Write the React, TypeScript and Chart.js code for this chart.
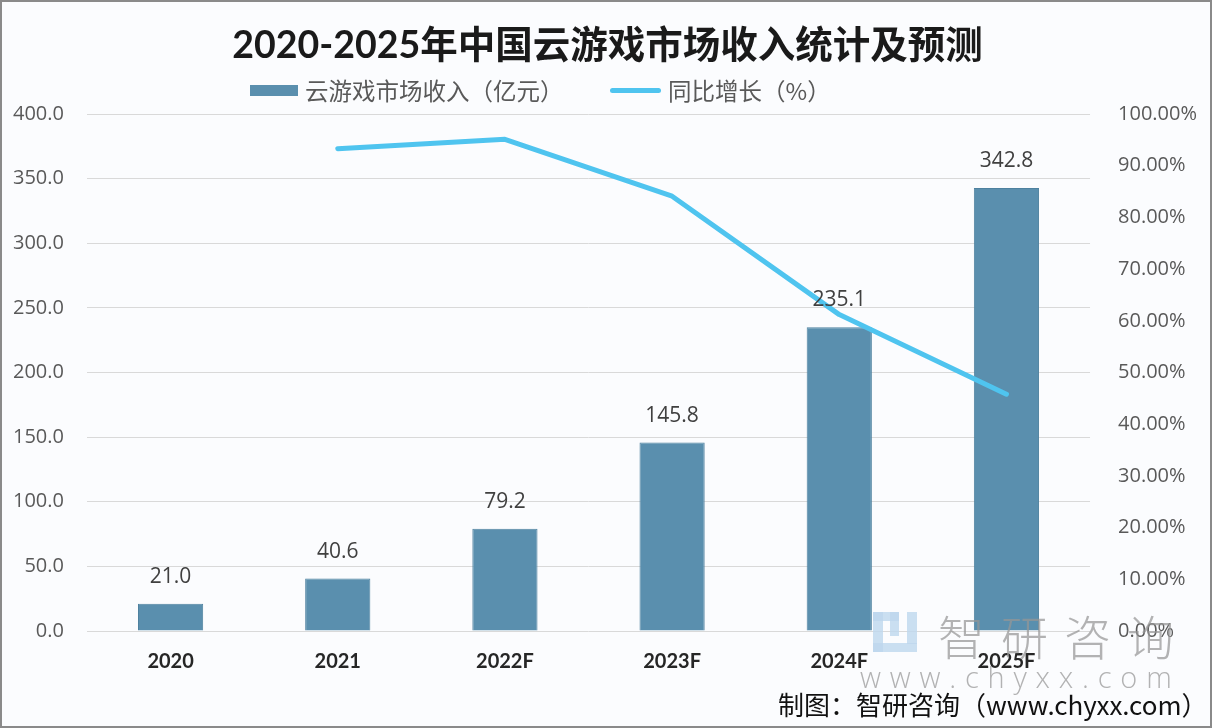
import React, { useEffect, useRef } from 'react';
import { Chart, registerables } from 'chart.js';

Chart.register(...registerables);

const categories = ['2020', '2021', '2022F', '2023F', '2024F', '2025F'];
const revenue = [21.0, 40.6, 79.2, 145.8, 235.1, 342.8];
const growth: (number | null)[] = [null, 93.3, 95.1, 84.1, 61.2, 45.8];

const titleText = '2020-2025年中国云游戏市场收入统计及预测';
const revenueLabel = '云游戏市场收入（亿元）';
const growthLabel = '同比增长（%）';
const footerText = '制图：智研咨询（www.chyxx.com）';
const watermarkText = '智研咨询';
const watermarkUrl = 'www.chyxx.com';

const BAR_COLOR = '#5a8fae';
const BAR_BORDER = '#4e819f';
const LINE_COLOR = '#4fc4ef';
const TICK_COLOR = '#595959';
const GRID_COLOR = '#d9d9d9';
const SANS = '"Open Sans", "Noto Sans CJK SC", sans-serif';
const CJK = '"Noto Sans CJK SC", "Open Sans", sans-serif';

const barLabels = {
  id: 'barLabels',
  afterDatasetsDraw(chart: any) {
    const meta = chart.getDatasetMeta(0);
    const ctx = chart.ctx;
    ctx.save();
    ctx.font = '21px ' + SANS;
    ctx.fillStyle = '#404040';
    ctx.textAlign = 'center';
    ctx.textBaseline = 'middle';
    meta.data.forEach((el: any, i: number) => {
      ctx.fillText(revenue[i].toFixed(1), el.x, el.y - 27);
    });
    ctx.restore();
  },
};

export default function App() {
  const canvasRef = useRef<HTMLCanvasElement | null>(null);

  useEffect(() => {
    if (!canvasRef.current) return;
    const chart = new Chart(canvasRef.current, {
      type: 'bar',
      data: {
        labels: categories,
        datasets: [
          {
            type: 'bar',
            label: revenueLabel,
            data: revenue,
            backgroundColor: BAR_COLOR,
            borderColor: BAR_BORDER,
            borderWidth: 1,
            categoryPercentage: 1,
            barPercentage: 0.39,
            yAxisID: 'y',
            order: 1,
          },
          {
            type: 'line',
            label: growthLabel,
            data: growth,
            borderColor: LINE_COLOR,
            backgroundColor: LINE_COLOR,
            borderWidth: 5,
            borderCapStyle: 'round',
            borderJoinStyle: 'round',
            pointRadius: 0,
            tension: 0,
            yAxisID: 'y1',
            order: 0,
          } as any,
        ],
      },
      options: {
        responsive: false,
        animation: false,
        devicePixelRatio: 1,
        layout: { padding: { left: -12, right: -15, top: 0, bottom: 33 } },
        plugins: {
          legend: { display: false },
          tooltip: { enabled: false },
          title: {
            display: true,
            text: titleText,
            color: '#1a1a1a',
            font: { family: '"Lato", "Noto Sans CJK SC", sans-serif', size: 37.5, weight: 'bold', lineHeight: 1.2 },
            padding: { top: 21, bottom: 46 },
          },
        },
        scales: {
          x: {
            grid: { display: false, drawTicks: false },
            border: { display: false },
            ticks: {
              color: '#262626',
              padding: 19,
              font: { family: '"Lato", sans-serif', size: 20, weight: 'bold', lineHeight: 1.2 },
            },
          },
          y: {
            position: 'left',
            min: 0,
            max: 400,
            grid: { color: GRID_COLOR, lineWidth: 1, drawTicks: false },
            border: { display: false },
            ticks: {
              stepSize: 50,
              padding: 23,
              color: TICK_COLOR,
              font: { family: SANS, size: 20, lineHeight: 1.2 },
              callback: (v: any) => Number(v).toFixed(1),
            },
          },
          y1: {
            position: 'right',
            min: 0,
            max: 100,
            grid: { display: false, drawTicks: false },
            border: { display: false },
            ticks: {
              stepSize: 10,
              padding: 28,
              color: TICK_COLOR,
              font: { family: SANS, size: 20, lineHeight: 1.2 },
              callback: (v: any) => Number(v).toFixed(2) + '%',
            },
          },
        },
      },
      plugins: [barLabels],
    } as any);
    return () => chart.destroy();
  }, []);

  const wm = 'rgba(150,150,150,0.72)';
  const logo = 'rgba(190,215,238,0.8)';

  return (
    <div
      style={{
        position: 'fixed',
        left: 0,
        top: 0,
        width: 1212,
        height: 728,
        boxSizing: 'border-box',
        border: '2px solid #8a8a8a',
        background: '#fbfcfe',
        overflow: 'hidden',
      }}
    >
      <canvas ref={canvasRef} width={1208} height={724} style={{ position: 'absolute', left: 0, top: 0, width: 1208, height: 724 }} />

      {/* legend */}
      <div style={{ position: 'absolute', left: 248, top: 83, width: 48, height: 11, background: BAR_COLOR }} />
      <div style={{ position: 'absolute', left: 303, top: 72, lineHeight: '32px', fontFamily: CJK, fontSize: 23.5, color: TICK_COLOR, whiteSpace: 'nowrap' }}>
        {revenueLabel}
      </div>
      <div style={{ position: 'absolute', left: 608, top: 86, width: 51, height: 5, borderRadius: 3, background: LINE_COLOR }} />
      <div style={{ position: 'absolute', left: 666, top: 72, lineHeight: '32px', fontFamily: CJK, fontSize: 23.5, color: TICK_COLOR, whiteSpace: 'nowrap' }}>
        {growthLabel}
      </div>

      {/* watermark */}
      <div style={{ position: 'absolute', left: 871, top: 606, width: 46, height: 46, pointerEvents: 'none' }}>
        <div style={{ position: 'absolute', left: 0, top: 4, width: 10, height: 40, background: logo }} />
        <div style={{ position: 'absolute', left: 0, top: 4, width: 26, height: 9, background: logo }} />
        <div style={{ position: 'absolute', left: 17, top: 4, width: 9, height: 24, background: logo }} />
        <div style={{ position: 'absolute', left: 0, top: 35, width: 44, height: 9, background: logo }} />
        <div style={{ position: 'absolute', left: 34, top: 4, width: 10, height: 32, background: logo }} />
      </div>
      <div style={{ position: 'absolute', left: 936, top: 598, fontFamily: CJK, fontSize: 47, letterSpacing: 16, color: wm, fontWeight: 300, whiteSpace: 'nowrap', pointerEvents: 'none' }}>
        {watermarkText}
      </div>
      <div style={{ position: 'absolute', left: 858, top: 655, fontFamily: SANS, fontSize: 29, letterSpacing: 8.8, color: wm, fontWeight: 300, whiteSpace: 'nowrap', pointerEvents: 'none' }}>
        {watermarkUrl}
      </div>

      {/* footer */}
      <div style={{ position: 'absolute', left: 776, top: 684, fontFamily: CJK, fontSize: 26, color: '#111', whiteSpace: 'nowrap', lineHeight: '36px' }}>
        {footerText}
      </div>
    </div>
  );
}
